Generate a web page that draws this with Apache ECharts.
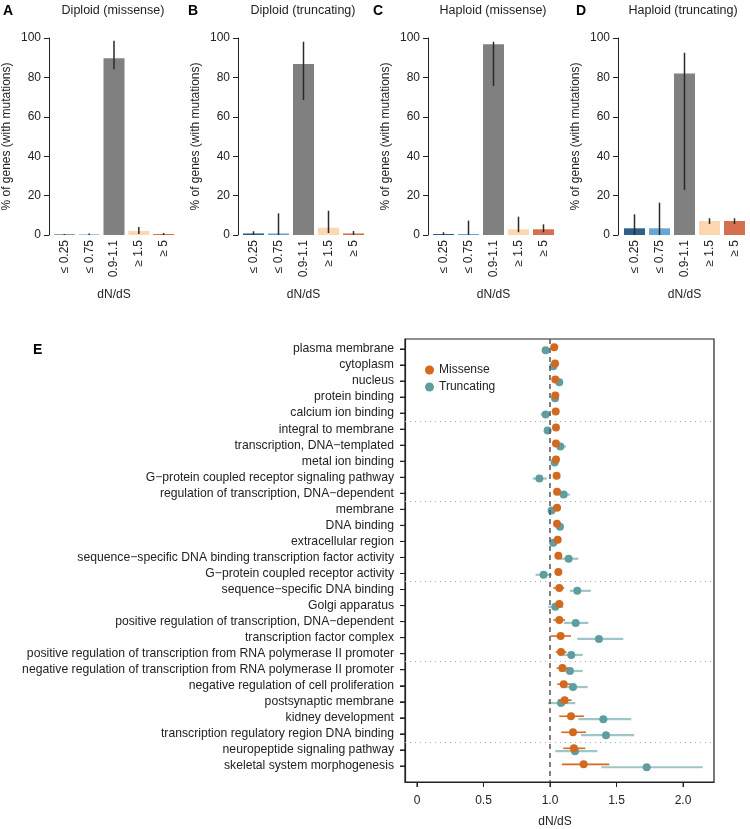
<!DOCTYPE html>
<html><head><meta charset="utf-8">
<script src="https://cdn.jsdelivr.net/npm/echarts@6/dist/echarts.min.js"></script>
<style>html,body{margin:0;padding:0;background:#fff}#c{width:750px;height:829px}</style>
</head><body><div id="c"></div>
<script>
// ---------- Data: panels A-D ----------
const dndsBins = ['≤ 0.25', '≤ 0.75', '0.9-1.1', '≥ 1.5', '≥ 5'];
const binColors = ['#2f5f8a', '#6aa6d3', '#808080', '#fdd7b0', '#d4704f'];

const panelTitles = ['Diploid (missense)', 'Diploid (truncating)', 'Haploid (missense)', 'Haploid (truncating)'];
const panelLetters = ['A', 'B', 'C', 'D'];

const diploidMissense      = [0.3, 0.3, 89.7, 2.1, 0.5];
const diploidMissenseLow   = [0, 0, 84.1, 0.5, 0];
const diploidMissenseHigh  = [0.5, 0.8, 98.6, 4.0, 1.0];

const diploidTruncating     = [0.8, 0.8, 86.8, 3.7, 0.8];
const diploidTruncatingLow  = [0, 0, 68.5, 1.0, 0];
const diploidTruncatingHigh = [1.9, 11.0, 98.1, 12.3, 2.0];

const haploidMissense      = [0.5, 0.5, 96.8, 2.9, 2.9];
const haploidMissenseLow   = [0, 0, 75.6, 1.4, 1.4];
const haploidMissenseHigh  = [1.4, 7.3, 98.1, 9.3, 5.4];

const haploidTruncating     = [3.4, 3.4, 82.0, 7.1, 7.1];
const haploidTruncatingLow  = [0, 0, 22.8, 5.6, 5.6];
const haploidTruncatingHigh = [10.5, 16.4, 92.5, 8.5, 8.5];

// ---------- Data: panel E ----------
const goTerms = [
  'plasma membrane', 'cytoplasm', 'nucleus', 'protein binding', 'calcium ion binding',
  'integral to membrane', 'transcription, DNA−templated', 'metal ion binding',
  'G−protein coupled receptor signaling pathway', 'regulation of transcription, DNA−dependent',
  'membrane', 'DNA binding', 'extracellular region',
  'sequence−specific DNA binding transcription factor activity', 'G−protein coupled receptor activity',
  'sequence−specific DNA binding', 'Golgi apparatus', 'positive regulation of transcription, DNA−dependent',
  'transcription factor complex', 'positive regulation of transcription from RNA polymerase II promoter',
  'negative regulation of transcription from RNA polymerase II promoter', 'negative regulation of cell proliferation',
  'postsynaptic membrane', 'kidney development', 'transcription regulatory region DNA binding',
  'neuropeptide signaling pathway', 'skeletal system morphogenesis'
];
const missenseDnds = [1.032, 1.038, 1.040, 1.040, 1.043, 1.045, 1.045, 1.045, 1.050, 1.053,
  1.053, 1.053, 1.058, 1.063, 1.063, 1.070, 1.070, 1.070, 1.080, 1.083,
  1.093, 1.103, 1.110, 1.158, 1.173, 1.180, 1.253];
const missenseLow = [1.022, 1.028, 1.028, 1.030, 1.032, 1.033, 1.033, 1.033, 1.037, 1.040,
  1.040, 1.040, 1.043, 1.045, 1.045, 1.025, 1.033, 1.025, 1.005, 1.043,
  1.050, 1.055, 1.060, 1.070, 1.085, 1.100, 1.090];
const missenseHigh = [1.042, 1.048, 1.052, 1.050, 1.054, 1.057, 1.057, 1.057, 1.063, 1.066,
  1.066, 1.066, 1.073, 1.081, 1.081, 1.108, 1.100, 1.113, 1.158, 1.125,
  1.138, 1.155, 1.163, 1.255, 1.270, 1.266, 1.446];
const truncatingDnds = [0.967, 1.025, 1.070, 1.038, 0.967, 0.982, 1.078, 1.035, 0.920, 1.103,
  1.012, 1.075, 1.025, 1.140, 0.952, 1.205, 1.040, 1.193, 1.368, 1.160,
  1.150, 1.173, 1.083, 1.401, 1.421, 1.188, 1.727];
const truncatingLow = [0.955, 1.012, 1.055, 1.025, 0.930, 0.968, 1.045, 1.020, 0.870, 1.060,
  0.987, 1.045, 0.993, 1.075, 0.892, 1.150, 0.988, 1.105, 1.205, 1.100,
  1.070, 1.088, 0.985, 1.213, 1.233, 1.040, 1.386];
const truncatingHigh = [0.980, 1.038, 1.085, 1.050, 1.005, 0.996, 1.120, 1.055, 0.975, 1.150,
  1.035, 1.105, 1.040, 1.213, 1.013, 1.308, 1.100, 1.288, 1.551, 1.246,
  1.246, 1.283, 1.190, 1.611, 1.632, 1.356, 2.148];
const dndsTicks = [0, 0.5, 1, 1.5, 2];
const groupSeparators = [5.5, 10.5, 15.5, 20.5, 25.5];

// ---------- Build ----------
const FONT = '"Liberation Sans", Arial, Helvetica, sans-serif';
const panels = [
  {v: diploidMissense, lo: diploidMissenseLow, hi: diploidMissenseHigh, left: 51, offset: 3, letterX: 3},
  {v: diploidTruncating, lo: diploidTruncatingLow, hi: diploidTruncatingHigh, left: 241, offset: 3, letterX: 188},
  {v: haploidMissense, lo: haploidMissenseLow, hi: haploidMissenseHigh, left: 431, offset: 3, letterX: 373},
  {v: haploidTruncating, lo: haploidTruncatingLow, hi: haploidTruncatingHigh, left: 622, offset: 4, letterX: 576}
];

const grid = [], xAxis = [], yAxis = [], series = [], graphic = [];
panels.forEach((p, i) => {
  grid.push({left: p.left, top: 38, width: 125, height: 197, containLabel: false});
  xAxis.push({
    type: 'category', gridIndex: i, data: dndsBins, boundaryGap: true,
    axisLine: {show: false, onZero: false}, axisTick: {show: false},
    axisLabel: {rotate: 90, fontSize: 12, color: '#222', fontFamily: FONT, margin: 5, interval: 0},
    name: 'dN/dS', nameLocation: 'middle', nameGap: 54,
    nameTextStyle: {fontSize: 12, color: '#222', fontFamily: FONT}
  });
  yAxis.push({
    type: 'value', gridIndex: i, min: 0, max: 100, interval: 20, offset: p.offset,
    axisLine: {show: true, onZero: false, lineStyle: {color: '#222', width: 1}},
    axisTick: {show: true, length: 5, lineStyle: {color: '#222'}},
    axisLabel: {fontSize: 12, color: '#222', fontFamily: FONT, margin: 8},
    splitLine: {show: false},
    name: '% of genes (with mutations)', nameLocation: 'middle', nameGap: 36, nameRotate: 90,
    nameTextStyle: {fontSize: 12, color: '#222', fontFamily: FONT}
  });
  series.push({
    type: 'bar', xAxisIndex: i, yAxisIndex: i, barWidth: 21,
    data: p.v.map((val, k) => ({value: val, itemStyle: {color: binColors[k]}})),
    silent: true
  });
  series.push({
    type: 'custom', xAxisIndex: i, yAxisIndex: i, silent: true, z: 5,
    data: p.v.map((val, k) => [k, p.lo[k], p.hi[k]]),
    encode: {x: 0, y: [1, 2]},
    renderItem: (params, api) => {
      const a = api.coord([api.value(0), api.value(1)]);
      const b = api.coord([api.value(0), api.value(2)]);
      return {type: 'line', shape: {x1: a[0], y1: a[1], x2: b[0], y2: b[1]},
        style: {stroke: '#2a2a2a', lineWidth: 1.5}};
    }
  });
  graphic.push({type: 'text', x: p.letterX, y: 4,
    style: {text: panelLetters[i], font: 'bold 14px ' + FONT, fill: '#000'}});
  graphic.push({type: 'text', x: p.left - p.offset + 65, y: 4,
    style: {text: panelTitles[i], font: '12.5px ' + FONT, fill: '#222', textAlign: 'center', align: 'center'}});
});

// Panel E
const E = 4;
const rowVals = goTerms.map((t, k) => k + 1);
const X_MIN = -0.09, X_MAX = 2.233, Y_MIN = 0.38, Y_MAX = 28;
grid.push({left: 405, top: 339, width: 309, height: 443, show: true, borderColor: '#222', borderWidth: 1.2, backgroundColor: 'transparent'});
xAxis.push({
  type: 'value', gridIndex: E, min: X_MIN, max: X_MAX,
  axisLine: {show: true, onZero: false, lineStyle: {color: '#222', width: 1.2}},
  axisTick: {show: true, length: 5, customValues: dndsTicks, lineStyle: {color: '#222', width: 1}},
  axisLabel: {customValues: dndsTicks, fontSize: 12, color: '#222', fontFamily: FONT, margin: 13,
    formatter: v => (v === 0 ? '0' : v.toFixed(1))},
  splitLine: {show: false}
});
yAxis.push({
  type: 'value', gridIndex: E, min: Y_MIN, max: Y_MAX, inverse: true,
  axisLine: {show: true, onZero: false, lineStyle: {color: '#222', width: 1.2}},
  axisTick: {show: true, length: 5, customValues: rowVals, lineStyle: {color: '#222', width: 1}},
  axisLabel: {customValues: rowVals, fontSize: 12.2, color: '#222', fontFamily: FONT, margin: 11,
    formatter: v => goTerms[Math.round(v) - 1] || ''},
  splitLine: {show: false}
});

function hErr(lo, hi, off, color, width, name, z) {
  return {
    type: 'custom', name: name, xAxisIndex: E, yAxisIndex: E, silent: true, z: z,
    data: lo.map((l, k) => [l, hi[k], k + 1 + off]),
    encode: {x: [0, 1], y: 2},
    renderItem: (params, api) => {
      const a = api.coord([api.value(0), api.value(2)]);
      const b = api.coord([api.value(1), api.value(2)]);
      return {type: 'line', shape: {x1: a[0], y1: a[1], x2: b[0], y2: b[1]},
        style: {stroke: color, lineWidth: width}};
    }
  };
}
series.push(hErr(truncatingLow, truncatingHigh, 0.08, 'rgba(95,158,160,0.6)', 2.2, 'tErr', 2));
series.push({
  type: 'scatter', name: 'Truncating', xAxisIndex: E, yAxisIndex: E, symbolSize: 8, z: 3, silent: true,
  itemStyle: {color: '#5F9EA0', opacity: 1},
  data: truncatingDnds.map((v, k) => [v, k + 1 + 0.08]),
  markLine: {
    silent: true, symbol: 'none', label: {show: false},
    data: groupSeparators.map(y => ({yAxis: y})),
    lineStyle: {type: [1, 4], color: '#aaa', width: 1}
  }
});
series.push(hErr(missenseLow, missenseHigh, -0.1, '#d2691e', 1.6, 'mErr', 4));
series.push({
  type: 'scatter', name: 'Missense', xAxisIndex: E, yAxisIndex: E, symbolSize: 8, z: 5, silent: true,
  itemStyle: {color: '#d2691e', opacity: 1},
  data: missenseDnds.map((v, k) => [v, k + 1 - 0.1]),
  markLine: {
    silent: true, symbol: 'none', label: {show: false},
    data: [{xAxis: 1}],
    lineStyle: {type: [5, 4], color: '#555', width: 1.5}
  }
});

graphic.push({type: 'text', x: 33, y: 343, style: {text: 'E', font: 'bold 14px ' + FONT, fill: '#000'}});
graphic.push({type: 'text', x: 555, y: 816, style: {text: 'dN/dS', font: '12px ' + FONT, fill: '#222', textAlign: 'center', align: 'center'}});

const chart = echarts.init(document.getElementById('c'), null, {renderer: 'canvas'});
const baseOption = {
  animation: false,
  backgroundColor: '#fff',
  textStyle: {fontFamily: FONT},
  grid, xAxis, yAxis, series, graphic,
  legend: {
    data: ['Missense', 'Truncating'], orient: 'vertical', left: 420, top: 359,
    icon: 'circle', itemWidth: 9, itemHeight: 9, itemGap: 5,
    textStyle: {fontSize: 12, color: '#222', fontFamily: FONT}, selectedMode: false
  }
};
chart.setOption(baseOption);

// Panel E axis ticks, positioned through the chart's own scales
const tickEls = [];
rowVals.forEach(v => {
  const p = chart.convertToPixel({gridIndex: E}, [X_MIN, v]);
  tickEls.push({type: 'line', silent: true, shape: {x1: p[0] - 5, y1: p[1], x2: p[0], y2: p[1]},
    style: {stroke: '#222', lineWidth: 1}});
});
dndsTicks.forEach(v => {
  const p = chart.convertToPixel({gridIndex: E}, [v, Y_MAX]);
  tickEls.push({type: 'line', silent: true, shape: {x1: p[0], y1: p[1], x2: p[0], y2: p[1] + 5},
    style: {stroke: '#222', lineWidth: 1}});
});
chart.setOption({graphic: graphic.concat(tickEls)});
</script>
</body></html>
